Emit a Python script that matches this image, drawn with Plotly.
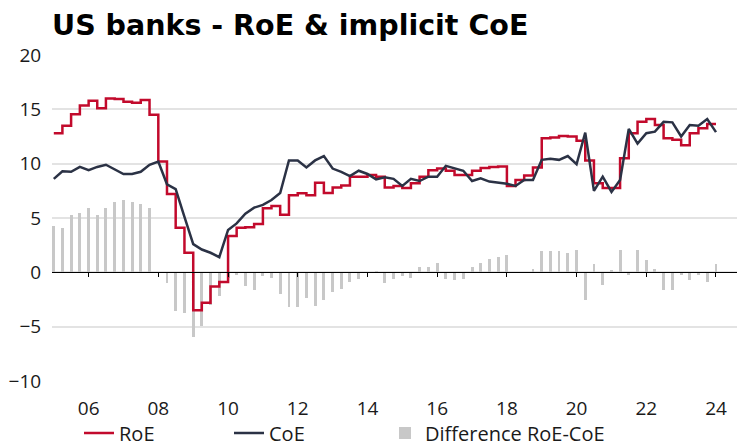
import pandas as pd
import plotly.graph_objects as go

# quarterly observations, Q1 2005 to Q1 2024
quarters = pd.date_range('2005-01-01', periods=77, freq='QS')

roe = [12.8, 13.5, 14.55, 15.35, 15.8, 15.1, 16.0, 15.95, 15.7, 15.6,
       15.85, 14.5, 10.2, 7.2, 4.1, 1.8, -3.5, -2.8, -1.3, -0.9,
       3.35, 4.1, 4.15, 4.45, 5.9, 6.1, 5.3, 7.1, 7.27, 7.1,
       8.25, 7.3, 7.8, 8.0, 8.8, 8.8, 8.95, 8.8, 7.8, 7.95,
       7.75, 8.2, 8.8, 9.4, 9.55, 9.35, 8.95, 8.95, 9.35, 9.6,
       9.7, 9.75, 7.95, 8.5, 8.9, 9.65, 12.35, 12.4, 12.55, 12.5,
       12.1, 10.3, 8.2, 7.75, 7.75, 10.5, 12.8, 13.85, 14.1, 13.55,
       12.35, 12.2, 11.7, 12.8, 13.25, 13.65, 13.65]

coe = [8.6, 9.3, 9.25, 9.7, 9.4, 9.7, 9.9, 9.5, 9.05, 9.05,
       9.25, 9.9, 10.2, 8.1, 7.65, 5.1, 2.6, 2.1, 1.8, 1.4,
       3.9, 4.5, 5.4, 5.95, 6.2, 6.65, 7.3, 10.3, 10.3, 9.65,
       10.3, 10.7, 9.55, 9.25, 8.85, 9.35, 9.05, 8.55, 8.75, 8.6,
       7.95, 8.6, 8.4, 8.8, 8.8, 9.8, 9.55, 9.35, 8.4, 8.65,
       8.35, 8.25, 8.15, 7.95, 8.5, 8.5, 10.35, 10.45, 10.35, 10.7,
       9.95, 12.85, 7.5, 8.8, 7.4, 8.5, 13.2, 11.85, 12.8, 12.95,
       13.85, 13.8, 12.5, 13.55, 13.5, 14.1, 12.9]

diff = [4.3, 4.1, 5.3, 5.5, 5.9, 5.3, 5.95, 6.45, 6.65, 6.45,
        6.3, 5.9, 0.0, -1.0, -3.6, -3.7, -5.95, -4.95, -3.0, -2.2,
        -0.55, -0.2, -1.25, -1.6, -0.35, -0.55, -2.0, -3.2, -3.2, -2.4,
        -3.1, -2.5, -1.8, -1.5, -0.85, -0.6, 0.0, 0.15, -0.95, -0.6,
        -0.3, -0.55, 0.5, 0.5, 0.85, -0.6, -0.75, -0.6, 0.45, 0.9,
        1.25, 1.4, 1.6, 0.0, 0.0, 0.35, 2.0, 1.95, 2.0, 1.75,
        2.1, -2.55, 0.75, -1.15, 0.25, 2.1, -0.25, 2.1, 1.15, 0.3,
        -1.6, -1.6, -0.25, -0.75, -0.2, -0.85, 0.8]

tick_dates = ['2006-01-01', '2008-01-01', '2010-01-01', '2012-01-01', '2014-01-01',
              '2016-01-01', '2018-01-01', '2020-01-01', '2022-01-01', '2024-01-01']
tick_labels = ['06', '08', '10', '12', '14', '16', '18', '20', '22', '24']

x_range = ['2004-12-13', '2024-10-31']
font = 'Open Sans'

# the page body adds an 8px margin, so the figure is 8px smaller each way
W, H = 737, 440

fig = go.Figure()

# difference bars on the base axis, lines on the overlay so they sit on top
fig.add_trace(go.Bar(x=quarters, y=diff, name='Difference RoE-CoE',
                     marker=dict(color='#c8c8c8', line=dict(width=0)),
                     width=2.6e9, legend='legend3'))
fig.add_trace(go.Scatter(x=quarters, y=roe, name='RoE', mode='lines',
                         line=dict(color='#c20a2c', width=2.5, shape='hv'),
                         xaxis='x2', legend='legend'))
fig.add_trace(go.Scatter(x=quarters, y=coe, name='CoE', mode='lines',
                         line=dict(color='#2b3245', width=2.5),
                         xaxis='x2', legend='legend2'))

# one legend per series so each entry can sit where it does in the original
leg = dict(orientation='h', xref='container', yref='container', xanchor='left',
           y=15 / H, yanchor='middle', font=dict(size=20, color='#1a1a1a'),
           bgcolor='rgba(0,0,0,0)', borderwidth=0)

fig.update_layout(
    width=W, height=H,
    margin=dict(l=44, r=0, t=47, b=67, autoexpand=False),
    paper_bgcolor='white', plot_bgcolor='white',
    font=dict(family=font, size=19, color='#1a1a1a'),
    title=dict(text='<b>US banks - RoE & implicit CoE</b>',
               font=dict(family='DejaVu Sans', size=28.5, color='#000000'),
               x=44 / W, xanchor='left', xref='container',
               y=1 - 17 / H, yanchor='middle', yref='container'),
    xaxis=dict(type='date', range=x_range, tickvals=tick_dates, ticktext=tick_labels,
               showgrid=False, showline=False, zeroline=False,
               ticks='outside', ticklen=10, tickcolor='rgba(0,0,0,0)',
               tickfont=dict(size=19)),
    xaxis2=dict(type='date', range=x_range, overlaying='x', anchor='free', position=1 / 3,
                tickvals=tick_dates, showticklabels=False, showgrid=False,
                showline=True, linecolor='#000000', linewidth=1,
                ticks='outside', ticklen=4, tickcolor='#000000', tickwidth=1),
    yaxis=dict(range=[-10, 20], tickvals=[-10, -5, 0, 5, 10, 15, 20],
               showgrid=True, gridcolor='#e3e3e3', gridwidth=1.5, zeroline=False,
               showline=False, ticks='outside', ticklen=6, tickcolor='rgba(0,0,0,0)',
               tickfont=dict(size=19)),
    bargap=0,
    showlegend=True,
    legend=dict(leg, x=71 / W),
    legend2=dict(leg, x=221 / W),
    legend3=dict(leg, x=377 / W),
)

fig.write_html('out.html')
